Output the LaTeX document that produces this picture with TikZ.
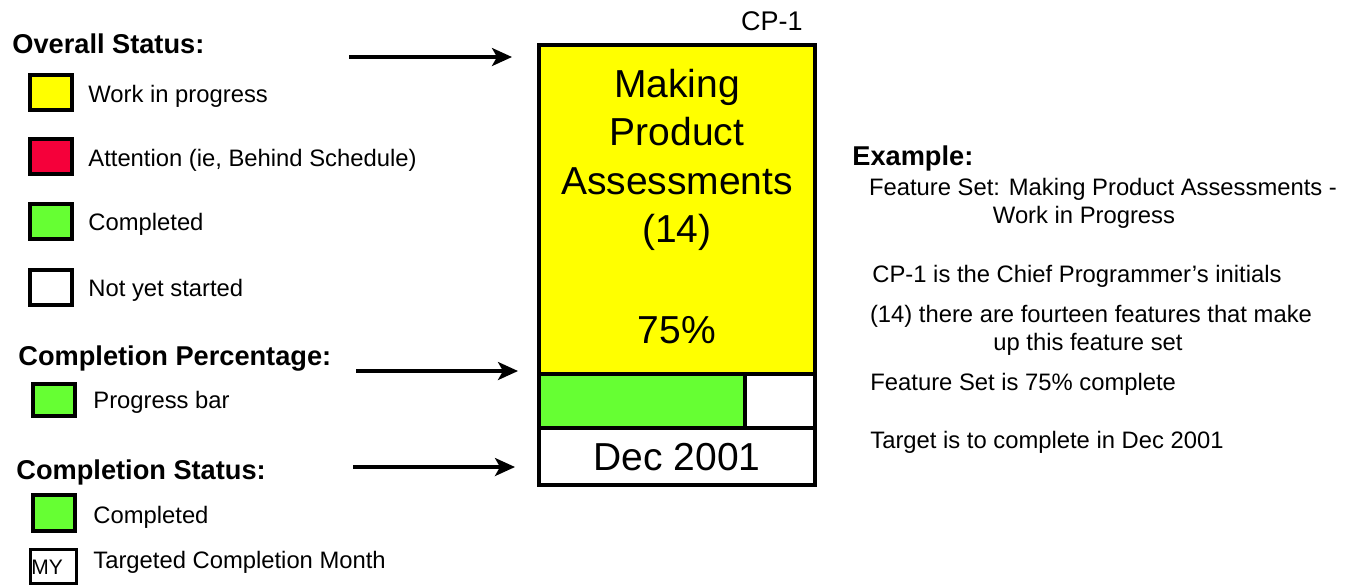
\documentclass[tikz,border=0pt]{standalone}
\usepackage{fontspec}
\setmainfont{Liberation Sans}
\usetikzlibrary{arrows.meta}
\definecolor{wipyellow}{HTML}{FFFF00}
\definecolor{attred}{HTML}{F5003A}
\definecolor{donegreen}{HTML}{66FF33}
\tikzset{
  txt/.style={inner sep=0pt, anchor=base west, font=\fontsize{11.9}{14.5}\selectfont},
  ctxt/.style={inner sep=0pt, anchor=base, font=\fontsize{11.9}{14.5}\selectfont},
  head/.style={inner sep=0pt, anchor=base west, font=\fontsize{13.6}{16}\selectfont\bfseries},
  legbox/.style={draw, line width=2pt, minimum width=21pt, minimum height=17.5pt, inner sep=0pt},
  part/.style={draw, line width=2pt, minimum width=138pt, inner sep=0pt},
  big/.style={inner sep=0pt, font=\fontsize{19.5}{24.2}\selectfont, align=center},
  arr/.style={line width=1.6pt, -{Stealth[length=10pt,width=9pt,inset=2.5pt]}}
}
\begin{document}
\begin{tikzpicture}[x=0.5pt,y=-0.5pt]
\useasboundingbox[fill=white] (0,0) rectangle (1350,586);

% ---- legend: overall status
\node[head] (hos) at (12,53) {Overall Status:};
\node[legbox, fill=wipyellow] (ly) at (51,92.5) {};
\node[txt] (tly) at (88,102) {Work in progress};
\node[legbox, fill=attred] (lr) at (51,156.5) {};
\node[txt] (tlr) at (88,166) {Attention (ie, Behind Schedule)};
\node[legbox, fill=donegreen] (lg) at (51,221.5) {};
\node[txt] (tlg) at (88,230) {Completed};
\node[legbox, fill=white] (lw) at (51,287.5) {};
\node[txt] (tlw) at (88,296) {Not yet started};

% ---- legend: completion percentage
\node[head] (hcp) at (18,365) {Completion Percentage:};
\node[legbox, fill=donegreen, minimum height=16pt] (lp) at (54,400) {};
\node[txt] (tlp) at (93,408) {Progress bar};

% ---- legend: completion status
\node[head] (hcs) at (16,479) {Completion Status:};
\node[legbox, fill=donegreen, minimum height=18pt] (lc) at (54,513) {};
\node[txt] (tlc) at (93,523) {Completed};
\node[draw, line width=1.5pt, minimum width=23pt, minimum height=17pt, inner sep=0pt] (lm) at (53,566.5) {};
\node[inner sep=0pt, anchor=base west, font=\fontsize{10.5}{12}\selectfont] (tmy) at (31,574) {MY};
\node[txt] (tlm) at (93,568) {Targeted Completion Month};

% ---- feature set box
\node[part, fill=wipyellow, minimum height=164.5pt] (fs) at (677,209.5) {};
\node[part, fill=white, minimum height=27pt] (bar) at (677,401) {};
\node[draw, line width=2pt, fill=donegreen, minimum width=103pt, minimum height=27pt, inner sep=0pt] (prog) at (642,401) {};
\node[part, fill=white, minimum height=28.5pt] (date) at (677,456.5) {};
\node[big] (name) at (677,160) {Making\\Product\\Assessments\\(14)};
\node[big] (pct) at (677,330) {75\%};
\node[big] (dtxt) at (677,457) {Dec 2001};
\node[inner sep=0pt, anchor=base east, font=\fontsize{13.5}{16}\selectfont] (cp) at (803,30) {CP-1};

% ---- arrows
\coordinate (a1) at (349,57);
\coordinate (a2) at (356,371);
\coordinate (a3) at (353,467);
\draw[arr, shorten >=12.5pt] (a1) -- (a1 -| fs.west);
\draw[arr, shorten >=9.5pt] (a2) -- (a2 -| fs.west);
\draw[arr, shorten >=11pt] (a3) -- (a3 -| date.west);

% ---- example text
\node[head] (ex) at (852,165) {Example:};
\node[ctxt] (e1a) at (1103,195) {Feature Set: Making Product Assessments -};
\node[ctxt] (e1b) at (1084,223) {Work in Progress};
\node[txt] (e2) at (872,282) {CP-1 is the Chief Programmer's initials};
\node[ctxt] (e3a) at (1091,322) {(14) there are fourteen features that make};
\node[ctxt] (e3b) at (1088,350) {up this feature set};
\node[txt] (e4) at (870,390) {Feature Set is 75\% complete};
\node[txt] (e5) at (870,448) {Target is to complete in Dec 2001};
\end{tikzpicture}
\end{document}
